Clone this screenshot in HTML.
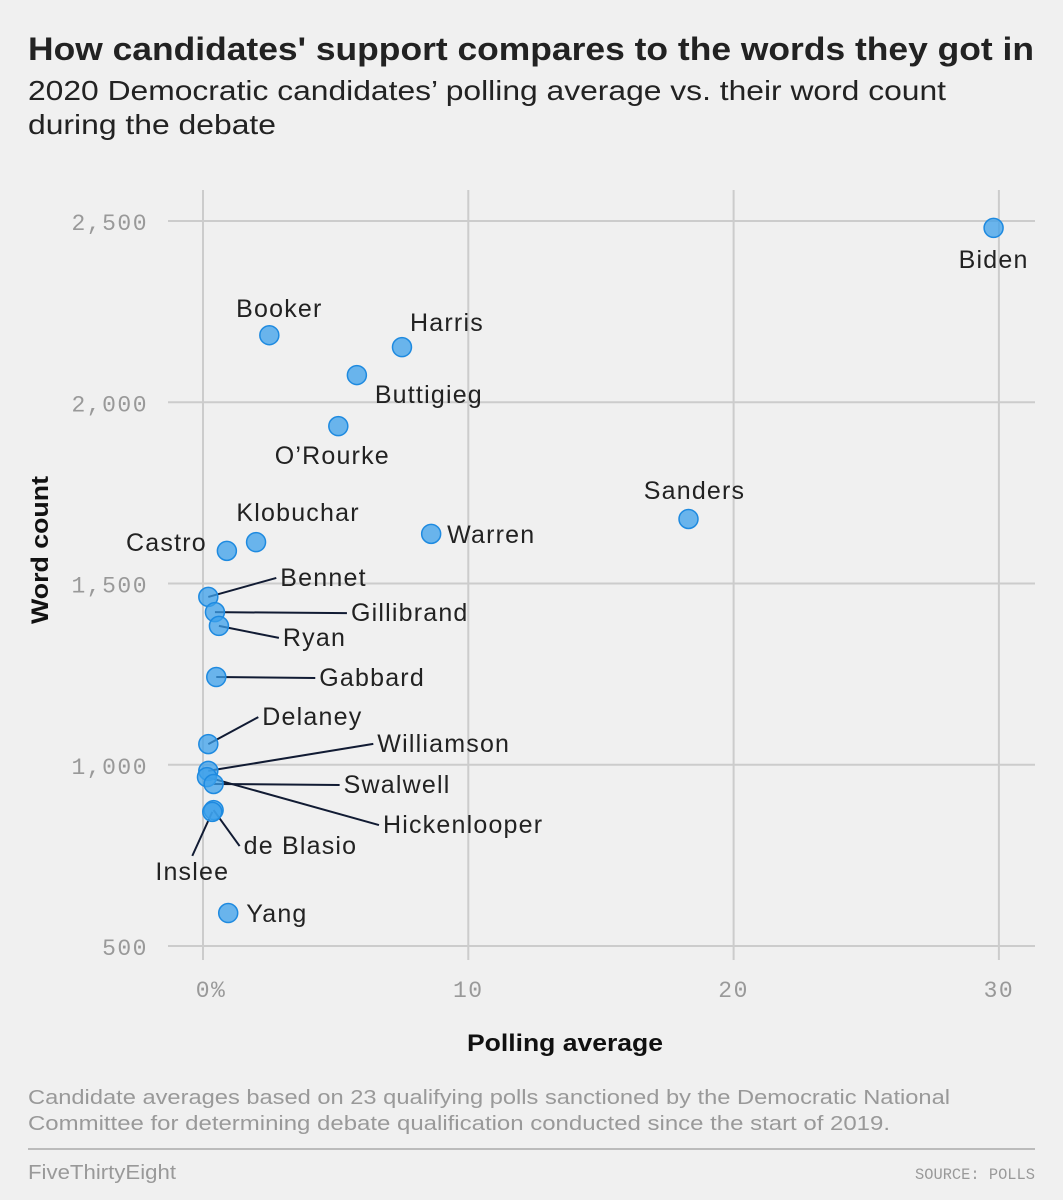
<!DOCTYPE html>
<html><head><meta charset="utf-8"><style>
body{margin:0;background:#f0f0f0;width:1063px;height:1200px;overflow:hidden;font-family:"Liberation Sans",sans-serif}
svg{position:absolute;left:0;top:0}
</style></head><body>
<svg width="1063" height="1200">
<text x="28" y="60" font-size="32" font-weight="bold" fill="#222" textLength="1006" lengthAdjust="spacingAndGlyphs">How candidates' support compares to the words they got in</text>
<text x="28" y="100" font-size="28" fill="#222" textLength="918" lengthAdjust="spacingAndGlyphs">2020 Democratic candidates’ polling average vs. their word count</text>
<text x="28" y="134" font-size="28" fill="#222" textLength="248" lengthAdjust="spacingAndGlyphs">during the debate</text>
<g id="grid"></g><g id="leaders"></g><g id="pts"></g><g id="labels"></g>
<text transform="translate(48,550) rotate(-90)" text-anchor="middle" font-size="24" font-weight="bold" fill="#111" textLength="148" lengthAdjust="spacingAndGlyphs">Word count</text>
<text x="565" y="1051" text-anchor="middle" font-size="24" font-weight="bold" fill="#111" textLength="196" lengthAdjust="spacingAndGlyphs">Polling average</text>
<text x="28" y="1104" font-size="20" fill="#999" textLength="922" lengthAdjust="spacingAndGlyphs">Candidate averages based on 23 qualifying polls sanctioned by the Democratic National</text>
<text x="28" y="1130" font-size="20" fill="#999" textLength="862" lengthAdjust="spacingAndGlyphs">Committee for determining debate qualification conducted since the start of 2019.</text>
<line x1="28" y1="1149" x2="1035" y2="1149" stroke="#bbb" stroke-width="2"/>
<text x="28" y="1179" font-size="20" fill="#999" textLength="148" lengthAdjust="spacingAndGlyphs">FiveThirtyEight</text>
<text x="1035" y="1179" text-anchor="end" font-size="16" fill="#999" font-family="Liberation Mono,monospace" textLength="120" lengthAdjust="spacingAndGlyphs">SOURCE: POLLS</text>
</svg>
<script>
const names=["Biden","Booker","Harris","Buttigieg","O’Rourke","Sanders","Warren","Klobuchar","Castro","Bennet","Gillibrand","Ryan","Gabbard","Delaney","Williamson","Hickenlooper","Swalwell","de Blasio","Inslee","Yang"];
const polls=[29.8,2.5,7.5,5.8,5.1,18.3,8.6,2.0,0.9,0.2,0.45,0.6,0.5,0.2,0.2,0.15,0.4,0.4,0.35,0.95];
const words=[2481,2185,2152,2075,1934,1678,1637,1614,1590,1463,1421,1383,1242,1057,983,966,947,875,870,591];
const xTicks=[0,10,20,30];
const xTickLabels=["0%","10","20","30"];
const yTicks=[500,1000,1500,2000,2500];
const yTickLabels=["500","1,000","1,500","2,000","2,500"];
const X=v=>203+v*26.53, Y=v=>946-(v-500)*0.3625;
const off=[[0,40,"middle",0],[10,-18,"middle",0],[45,-16,"middle",0],[72,28,"middle",0],[-6,38,"middle",0],[6,-20,"middle",0],[16,9,"start",0],[42,-21,"middle",0],[-20,0,"end",0],
[72,-11,"start",1],[136,9,"start",1],[64,20,"start",1],[103,9,"start",1],[54,-19,"start",1],[169,-19,"start",1],[176,56,"start",1],[130,9,"start",1],[30,44,"start",1],[-20,68,"middle",1],[18,9,"start",0]];
const ns="http://www.w3.org/2000/svg";
const mk=(t,a,p)=>{const e=document.createElementNS(ns,t);for(const k in a)e.setAttribute(k,a[k]);document.getElementById(p).appendChild(e);return e;};
yTicks.forEach((v,i)=>{const l=mk("line",{x1:168,x2:1035,y1:Y(v),y2:Y(v),stroke:"#ccc","stroke-width":2},"grid");


const t=mk("text",{x:148,y:Y(v)+9,"text-anchor":"end","font-size":23,fill:"#999","font-family":"Liberation Mono,monospace","letter-spacing":"1.5"},"grid");t.textContent=yTickLabels[i];

});
xTicks.forEach((v,i)=>{const l=mk("line",{x1:X(v),x2:X(v),y1:190,y2:960,stroke:"#ccc","stroke-width":2},"grid");


const t=mk("text",{x:X(v)+(i==0?8:0),y:997,"text-anchor":"middle","font-size":23,fill:"#999","font-family":"Liberation Mono,monospace","letter-spacing":"1.5"},"grid");t.textContent=xTickLabels[i];

});
names.forEach((n,i)=>{const cx=X(polls[i]),cy=Y(words[i]);const o=off[i];
const tx=cx+o[0],ty=cy+o[1];
if(o[3]){const lx=o[2]=="middle"?tx:tx-4;const ly=o[2]=="middle"?ty-24:ty-8;
const l=mk("line",{x1:cx,y1:cy,x2:lx,y2:ly,stroke:"#111b33","stroke-width":2},"leaders");

}
const c=mk("circle",{cx:cx,cy:cy,r:9.5,fill:"rgba(60,160,235,0.75)",stroke:"#1e8ae0","stroke-width":1.5},"pts");


const t=mk("text",{x:tx,y:ty,"text-anchor":o[2],"font-size":25,fill:"#222","letter-spacing":"1.2"},"labels");t.textContent=n;

});
</script>
</body></html>
